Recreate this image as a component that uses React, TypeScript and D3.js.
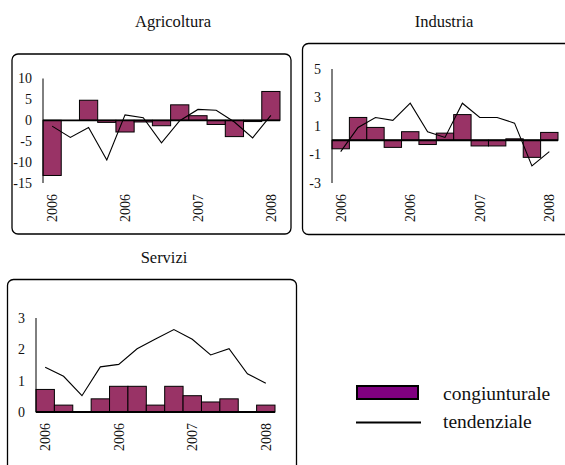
import React from "react";
import * as d3 from "d3";

const categories = ["2006", "", "", "", "2006", "", "", "", "2007", "", "", "", "2008"];

const agriBars = [-13.2, 0, 4.8, -0.5, -2.8, -0.4, -1.3, 3.7, 1.1, -1.0, -3.9, -0.3, 6.9];
const agriLine = [-1.4, -4.1, -1.7, -9.5, 1.3, 0.6, -5.4, -0.1, 2.6, 2.4, -0.4, -4.2, 1.2];
const agriTicks = [10, 5, 0, -5, -10, -15];

const indBars = [-0.6, 1.6, 0.9, -0.5, 0.6, -0.3, 0.5, 1.8, -0.4, -0.4, 0.1, -1.2, 0.55];
const indLine = [-0.8, 0.9, 1.6, 1.4, 2.6, 0.6, 0.2, 2.6, 1.6, 1.6, 1.2, -1.8, -0.8];
const indTicks = [5, 3, 1, -1, -3];

const servBars = [0.72, 0.22, 0, 0.42, 0.82, 0.82, 0.22, 0.82, 0.52, 0.32, 0.42, 0, 0.22];
const servLine = [1.43, 1.14, 0.52, 1.44, 1.52, 2.02, 2.33, 2.63, 2.32, 1.82, 2.02, 1.22, 0.92];
const servTicks = [3, 2, 1, 0];

const titles = ["Agricoltura", "Industria", "Servizi"];
const legendLabels = ["congiunturale", "tendenziale"];

const FONT = "Liberation Serif, DejaVu Serif, serif";
const BAR_COLOR = "#993366";

type PanelProps = {
  title: string;
  titleX: number;
  titleY: number;
  box: [number, number, number, number];
  xRange: [number, number];
  yDomain: [number, number];
  yRange: [number, number];
  ticks: number[];
  bars: number[];
  line: number[];
};

const txt = (size: number): React.CSSProperties => ({ fontFamily: FONT, fontSize: size, fill: "#111" });

function Panel(p: PanelProps) {
  const x = d3
    .scaleBand<number>()
    .domain(categories.map((_, i) => i))
    .range(p.xRange)
    .paddingInner(0)
    .paddingOuter(0);
  const y = d3.scaleLinear().domain(p.yDomain).range(p.yRange);
  const y0 = y(0);
  const bw = x.bandwidth();
  const lineGen = d3
    .line<number>()
    .x((_, i) => (x(i) as number) + bw / 2)
    .y((d) => y(d));
  const [bx, by, bwid, bh] = p.box;
  const plotBottom = Math.max(p.yRange[0], p.yRange[1]);
  return (
    <g>
      <text x={p.titleX} y={p.titleY} textAnchor="middle" style={txt(16.5)}>
        {p.title}
      </text>
      <rect x={bx} y={by} width={bwid} height={bh} rx={6} ry={6} fill="none" stroke="#000" strokeWidth={1.3} />
      {p.bars.map((v, i) =>
        v === 0 ? null : (
          <rect
            key={i}
            x={x(i)}
            y={Math.min(y(v), y0)}
            width={bw}
            height={Math.abs(y(v) - y0)}
            fill={BAR_COLOR}
            stroke="#000"
            strokeWidth={1}
          />
        )
      )}
      <line x1={p.xRange[0]} x2={p.xRange[1]} y1={y0} y2={y0} stroke="#000" strokeWidth={1.8} />
      <line x1={p.xRange[0]} x2={p.xRange[0]} y1={y(p.yDomain[0])} y2={y(p.yDomain[1])} stroke="#000" strokeWidth={1} />
      <path d={lineGen(p.line) || ""} fill="none" stroke="#000" strokeWidth={1.1} />
      {p.ticks.map((t) => (
        <text key={t} x={p.xRange[0] - 11} y={y(t)} dy="0.35em" textAnchor="end" style={txt(14)}>
          {t}
        </text>
      ))}
      {categories.map((c, i) =>
        c ? (
          <text
            key={i}
            transform={`translate(${(x(i) as number) + bw / 2},${plotBottom + 11}) rotate(-90)`}
            dy="0.35em"
            textAnchor="end"
            style={txt(14)}
          >
            {c}
          </text>
        ) : null
      )}
    </g>
  );
}

export default function App() {
  return (
    <svg width={565} height={465} style={{ position: "absolute", left: 0, top: 0, background: "#fff" }}>
      <rect x={0} y={0} width={565} height={465} fill="#fff" />
      <Panel
        title={titles[0]}
        titleX={173}
        titleY={27}
        box={[12, 54, 279, 180]}
        xRange={[43, 280]}
        yDomain={[-15, 10]}
        yRange={[183, 78.5]}
        ticks={agriTicks}
        bars={agriBars}
        line={agriLine}
      />
      <Panel
        title={titles[1]}
        titleX={444}
        titleY={27}
        box={[302.5, 43.5, 275, 191]}
        xRange={[332, 558]}
        yDomain={[-3, 5]}
        yRange={[183, 69]}
        ticks={indTicks}
        bars={indBars}
        line={indLine}
      />
      <Panel
        title={titles[2]}
        titleX={164}
        titleY={263}
        box={[7.5, 279.5, 289, 200]}
        xRange={[36, 275]}
        yDomain={[0, 3]}
        yRange={[412, 318]}
        ticks={servTicks}
        bars={servBars}
        line={servLine}
      />
      <rect x={357} y={386} width={61} height={13} fill="#800080" stroke="#000" strokeWidth={2} />
      <text x={443} y={394} dy="0.3em" style={txt(19.5)}>
        {legendLabels[0]}
      </text>
      <line x1={356} x2={421} y1={422.5} y2={422.5} stroke="#000" strokeWidth={2.2} />
      <text x={443} y={422} dy="0.3em" style={txt(19.5)}>
        {legendLabels[1]}
      </text>
    </svg>
  );
}
